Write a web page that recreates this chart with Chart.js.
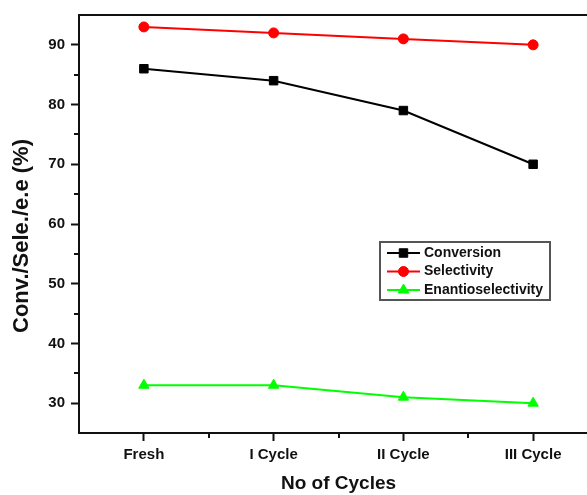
<!DOCTYPE html>
<html><head><meta charset="utf-8">
<script src="https://cdn.jsdelivr.net/npm/chart.js@4/dist/chart.umd.min.js"></script>
<style>html,body{margin:0;padding:0;background:#fff;overflow:hidden;width:587px;height:495px}canvas{display:block}</style>
</head><body><canvas id="c" width="605" height="495"></canvas>
<script>
const categories = ['Fresh', 'I Cycle', 'II Cycle', 'III Cycle'];
const conversion = [86, 84, 79, 70];
const selectivity = [93, 92, 91, 90];
const enantioselectivity = [33, 33, 31, 30];
const yTickValues = [30, 40, 50, 60, 70, 80, 90];
const yMinorTickValues = [35, 45, 55, 65, 75, 85];
const yMin = 25, yMax = 95;
const xTitle = 'No of Cycles';
const yTitle = 'Conv./Sele./e.e (%)';
const seriesNames = ['Conversion', 'Selectivity', 'Enantioselectivity'];

const FONT = "'Liberation Sans', Arial, sans-serif";
const INK = '#111111';

function drawMarker(ctx, style, x, y, r, color) {
  ctx.save();
  ctx.fillStyle = color; ctx.strokeStyle = color; ctx.lineWidth = 1;
  ctx.beginPath();
  if (style === 'rect') {
    const s = r * Math.SQRT2 / 2;
    ctx.rect(x - s, y - s, 2 * s, 2 * s);
  } else if (style === 'circle') {
    ctx.arc(x, y, r, 0, Math.PI * 2);
  } else if (style === 'triangle') {
    ctx.moveTo(x, y - r);
    ctx.lineTo(x + r * Math.sin(Math.PI / 3), y + r * 0.5);
    ctx.lineTo(x - r * Math.sin(Math.PI / 3), y + r * 0.5);
    ctx.closePath();
  }
  ctx.fill(); ctx.stroke();
  ctx.restore();
}

const decorPlugin = {
  id: 'decor',
  afterDraw(chart) {
    const ctx = chart.ctx;
    const a = chart.chartArea;
    const xs = chart.scales.x, ys = chart.scales.y;
    ctx.save();
    ctx.strokeStyle = INK; ctx.lineWidth = 2;
    ctx.beginPath(); ctx.moveTo(a.left - 1, a.top); ctx.lineTo(a.right, a.top); ctx.stroke();
    yMinorTickValues.forEach(v => {
      const py = Math.round(ys.getPixelForValue(v));
      ctx.beginPath(); ctx.moveTo(a.left - 5, py); ctx.lineTo(a.left, py); ctx.stroke();
    });
    for (let i = 0; i < categories.length - 1; i++) {
      const px = Math.round((xs.getPixelForValue(i) + xs.getPixelForValue(i + 1)) / 2);
      ctx.beginPath(); ctx.moveTo(px, a.bottom); ctx.lineTo(px, a.bottom + 5); ctx.stroke();
    }
    ctx.fillStyle = INK;
    ctx.font = "bold 22px " + FONT;
    ctx.textAlign = 'center'; ctx.textBaseline = 'middle';
    ctx.translate(22, (a.top + a.bottom) / 2 + 12);
    ctx.rotate(-Math.PI / 2);
    ctx.fillText(yTitle, 0, 0);
    ctx.restore();

    ctx.save();
    const bx = 380, by = 242, bw = 170, bh = 58;
    ctx.strokeStyle = '#555'; ctx.lineWidth = 2;
    ctx.strokeRect(bx, by, bw, bh);
    ctx.font = "bold 14px " + FONT;
    ctx.textAlign = 'left'; ctx.textBaseline = 'middle';
    chart.data.datasets.forEach((ds, i) => {
      const y = by + 11 + i * 18.5;
      ctx.strokeStyle = ds.borderColor; ctx.lineWidth = 2;
      ctx.beginPath(); ctx.moveTo(bx + 7, y); ctx.lineTo(bx + 40, y); ctx.stroke();
      drawMarker(ctx, ds.pointStyle, bx + 23.5, y, ds.pointRadius, ds.borderColor);
      ctx.fillStyle = INK;
      ctx.fillText(ds.label, bx + 44, y);
    });
    ctx.restore();
  }
};

new Chart(document.getElementById('c'), {
  type: 'line',
  data: {
    labels: categories,
    datasets: [
      { label: seriesNames[0], data: conversion, borderColor: '#000000', backgroundColor: '#000000',
        pointStyle: 'rect', pointRadius: 6, pointBorderWidth: 1, borderWidth: 2, tension: 0 },
      { label: seriesNames[1], data: selectivity, borderColor: '#ff0000', backgroundColor: '#ff0000',
        pointStyle: 'circle', pointRadius: 5, pointBorderWidth: 1, borderWidth: 2, tension: 0 },
      { label: seriesNames[2], data: enantioselectivity, borderColor: '#00ff00', backgroundColor: '#00ff00',
        pointStyle: 'triangle', pointRadius: 6, pointBorderWidth: 1, borderWidth: 2, tension: 0 }
    ]
  },
  options: {
    responsive: false,
    animation: false,
    devicePixelRatio: 1,
    layout: { padding: { top: 14, right: 3, left: 0, bottom: 0 } },
    plugins: { legend: { display: false }, tooltip: { enabled: false } },
    scales: {
      x: {
        type: 'category',
        offset: true,
        afterFit(s) { s.height = 62; },
        grid: { display: true, drawOnChartArea: false, drawTicks: true, tickLength: 8, tickWidth: 2, tickColor: INK, offset: false },
        border: { display: true, color: INK, width: 2 },
        ticks: { color: INK, font: { family: FONT, size: 15, weight: 'bold' }, padding: 5, maxRotation: 0 },
        title: { display: true, text: xTitle, color: INK, font: { family: FONT, size: 19, weight: 'bold' }, padding: { top: 0, bottom: 0 } }
      },
      y: {
        type: 'linear',
        min: yMin, max: yMax,
        afterFit(s) { s.width = 79; },
        afterBuildTicks(s) { s.ticks = yTickValues.map(v => ({ value: v })); },
        grid: { display: true, drawOnChartArea: false, drawTicks: true, tickLength: 8, tickWidth: 2, tickColor: INK },
        border: { display: true, color: INK, width: 2 },
        ticks: { color: INK, font: { family: FONT, size: 15, weight: 'bold' }, padding: 6 }
      }
    }
  },
  plugins: [decorPlugin]
});
</script>
</body></html>
